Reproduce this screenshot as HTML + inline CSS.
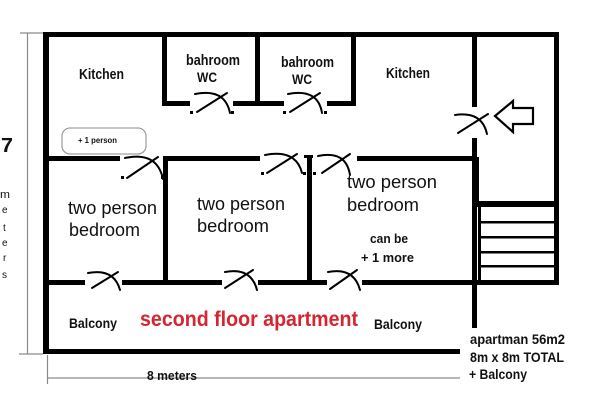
<!DOCTYPE html>
<html><head><meta charset="utf-8"><style>
html,body{margin:0;padding:0;background:#fff;}
svg{display:block;}
text{font-family:"Liberation Sans",Arial,sans-serif;fill:#111;}
.b{font-weight:bold;}
</style></head><body>
<svg width="600" height="402" viewBox="0 0 600 402" xmlns="http://www.w3.org/2000/svg">
<rect width="600" height="402" fill="#fff"/>
<!-- dimension lines -->
<g stroke="#8a8a8a" stroke-width="1.2" fill="none">
<line x1="27.5" y1="33" x2="27.5" y2="354"/>
<line x1="20" y1="33" x2="43" y2="33"/>
<line x1="19" y1="354" x2="43" y2="354"/>
<line x1="47.5" y1="355" x2="47.5" y2="384"/>
<line x1="47" y1="378" x2="460" y2="378"/>
</g>
<!-- walls -->
<g fill="#000">
<rect x="43" y="32" width="516" height="5"/>
<rect x="43" y="32" width="6" height="322"/>
<rect x="554" y="32" width="5" height="253"/>
<rect x="43" y="349" width="417" height="5"/>
<rect x="162" y="32" width="5" height="74"/>
<rect x="255" y="32" width="5" height="74"/>
<rect x="351" y="32" width="5" height="74"/>
<rect x="162" y="101" width="28" height="5"/>
<rect x="233" y="101" width="51" height="5"/>
<rect x="327" y="101" width="29" height="5"/>
<rect x="472" y="32" width="5" height="75"/>
<rect x="472" y="138" width="5" height="190"/>
<rect x="472" y="157" width="7" height="50"/>
<rect x="43" y="156" width="77" height="5"/>
<rect x="163" y="156" width="97" height="5"/>
<rect x="357" y="156" width="120" height="5"/>
<rect x="307" y="155" width="5" height="130"/>
<rect x="304" y="155" width="9" height="3"/>
<rect x="163" y="156" width="5" height="129"/>
<rect x="43" y="280" width="42" height="5"/>
<rect x="122" y="280" width="100" height="5"/>
<rect x="258" y="280" width="69" height="5"/>
<rect x="362" y="280" width="197" height="5"/>
<rect x="472" y="201" width="87" height="6"/>
<rect x="478" y="201" width="3" height="84"/>
<rect x="479" y="221" width="75" height="2.5"/>
<rect x="479" y="236" width="75" height="2.5"/>
<rect x="479" y="251" width="75" height="2.5"/>
<rect x="479" y="265" width="75" height="2.5"/>
</g>
<!-- doors -->
<g stroke="#000" stroke-width="2" fill="none" stroke-linecap="round">
<path d="M195,94 Q225,88 230,113"/><path d="M197,112 L227,93"/>
<path d="M288,94 Q318,88 322,113"/><path d="M290,112 L320,93"/>
<path d="M125,158 Q157,151 163,179"/><path d="M127,178 L158,157"/>
<path d="M265,155 Q296,149 302,173"/><path d="M267,173 L297,154"/>
<path d="M318,156 Q346,150 350,175"/><path d="M322,173 L350,154"/>
<path d="M455,115 Q482,111 487,134"/><path d="M458,133 L488,114"/>
<path d="M88,273 Q114,268 120,290"/><path d="M92,288 L118,272"/>
<path d="M225,272 Q251,267 257,290"/><path d="M225,288 L253,270"/>
<path d="M328,272 Q354,267 360,290"/><path d="M330,289 L357,270"/>
</g>
<g fill="#000">
<rect x="190" y="111" width="3" height="3"/><rect x="231" y="111" width="3" height="3"/>
<rect x="283" y="111" width="3" height="3"/><rect x="324" y="111" width="3" height="3"/>
<rect x="121" y="176" width="3" height="3"/><rect x="161" y="176" width="3" height="3"/>
<rect x="261" y="172" width="3" height="3"/><rect x="303" y="172" width="3" height="3"/>
<rect x="313" y="172" width="3" height="3"/>
</g>
<!-- arrow -->
<polygon points="495,116 513,101 513,108 533,108 533,124 513,124 513,132" fill="#fff" stroke="#000" stroke-width="2.2" stroke-linejoin="miter"/>
<!-- +1 person box -->
<rect x="62" y="128" width="84" height="26" rx="8" ry="8" fill="none" stroke="#8a8a8a" stroke-width="1"/>
<!-- texts -->
<text class="b" x="79" y="79" font-size="14.5" textLength="45" lengthAdjust="spacingAndGlyphs">Kitchen</text>
<text class="b" x="386" y="78" font-size="14.5" textLength="44" lengthAdjust="spacingAndGlyphs">Kitchen</text>
<text class="b" x="186" y="65" font-size="14.5" textLength="54" lengthAdjust="spacingAndGlyphs">bahroom</text>
<text class="b" x="197" y="82" font-size="14" textLength="20" lengthAdjust="spacingAndGlyphs">WC</text>
<text class="b" x="281" y="67" font-size="14.5" textLength="53" lengthAdjust="spacingAndGlyphs">bahroom</text>
<text class="b" x="292" y="84" font-size="14" textLength="20" lengthAdjust="spacingAndGlyphs">WC</text>
<text class="b" x="78" y="143" font-size="8.5" textLength="39" lengthAdjust="spacingAndGlyphs">+ 1 person</text>
<text x="68" y="214" font-size="18" textLength="89" lengthAdjust="spacingAndGlyphs">two person</text>
<text x="69" y="236" font-size="18" textLength="71" lengthAdjust="spacingAndGlyphs">bedroom</text>
<text x="197" y="210" font-size="18" textLength="88" lengthAdjust="spacingAndGlyphs">two person</text>
<text x="197" y="232" font-size="18" textLength="72" lengthAdjust="spacingAndGlyphs">bedroom</text>
<text x="347" y="188" font-size="18" textLength="90" lengthAdjust="spacingAndGlyphs">two person</text>
<text x="347" y="211" font-size="18" textLength="72" lengthAdjust="spacingAndGlyphs">bedroom</text>
<text class="b" x="370" y="243" font-size="13" textLength="38" lengthAdjust="spacingAndGlyphs">can be</text>
<text class="b" x="361" y="262" font-size="13" textLength="53" lengthAdjust="spacingAndGlyphs">+ 1 more</text>
<text class="b" x="69" y="328" font-size="14" textLength="48" lengthAdjust="spacingAndGlyphs">Balcony</text>
<text class="b" x="374" y="329" font-size="14" textLength="48" lengthAdjust="spacingAndGlyphs">Balcony</text>
<text class="b" x="140" y="326" font-size="21" textLength="218" lengthAdjust="spacingAndGlyphs" style="fill:#d42530">second floor apartment</text>
<text class="b" x="470" y="344" font-size="14" textLength="95" lengthAdjust="spacingAndGlyphs">apartman 56m2</text>
<text class="b" x="470" y="362" font-size="14" textLength="94" lengthAdjust="spacingAndGlyphs">8m x 8m TOTAL</text>
<text class="b" x="469" y="379" font-size="14" textLength="58" lengthAdjust="spacingAndGlyphs">+ Balcony</text>
<text class="b" x="1" y="152" font-size="20" textLength="12" lengthAdjust="spacingAndGlyphs">7</text>
<text x="0" y="198" font-size="11" textLength="10" lengthAdjust="spacingAndGlyphs">m</text>
<text x="2" y="213" font-size="10">e</text>
<text x="3" y="231" font-size="10">t</text>
<text x="2" y="246" font-size="10">e</text>
<text x="3" y="261" font-size="10">r</text>
<text x="2" y="278" font-size="10">s</text>
<text class="b" x="147" y="380" font-size="12.5" textLength="50" lengthAdjust="spacingAndGlyphs">8 meters</text>
</svg>
</body></html>
